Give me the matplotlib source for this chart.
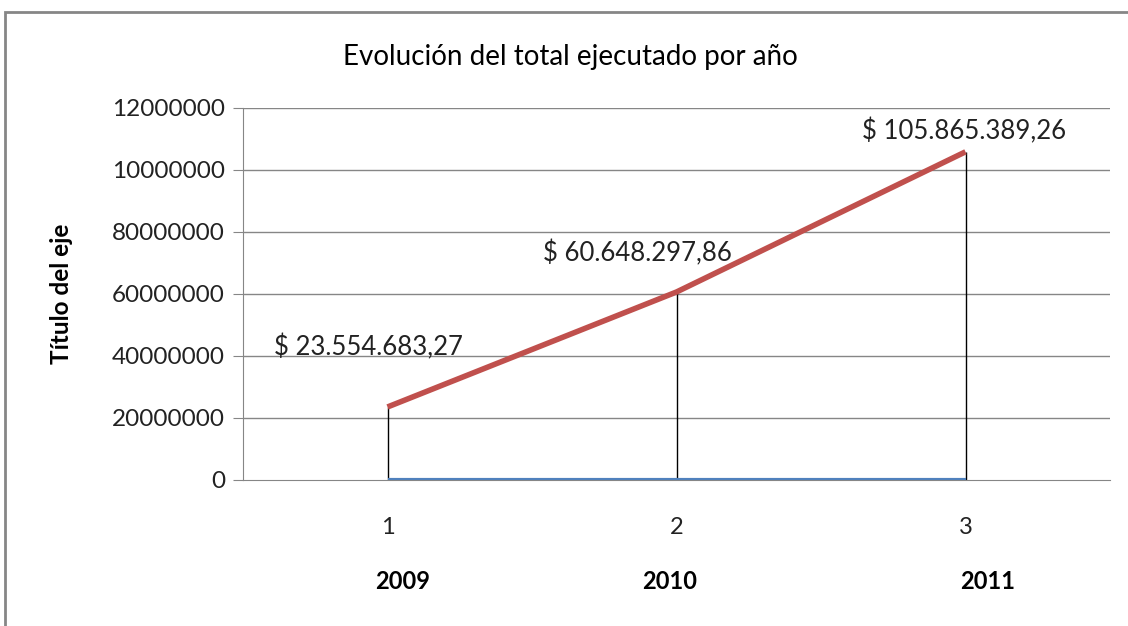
import numpy as np
import matplotlib.pyplot as plt
from matplotlib.patches import Rectangle

# data
positions = [1, 2, 3]
years = ["2009", "2010", "2011"]
totals = [23554683.27, 60648297.86, 105865389.26]
zeros = [0, 0, 0]
point_labels = ["$ 23.554.683,27", "$ 60.648.297,86", "$ 105.865.389,26"]
y_ticks = [0, 20000000, 40000000, 60000000, 80000000, 100000000, 120000000]
y_tick_labels = ["0", "20000000", "40000000", "60000000", "80000000", "10000000", "12000000"]

FONT = ["Lato", "DejaVu Sans"]
plt.rcParams['font.family'] = FONT

fig = plt.figure(figsize=(11.28, 6.26), dpi=100)
fig.patches.append(Rectangle((5 / 1128, -0.1), 1.2, 1 - 12 / 626 + 0.1,
                             transform=fig.transFigure, fill=False,
                             edgecolor="#868686", linewidth=2))

ax = fig.add_axes([243 / 1128, (626 - 480) / 626, 867 / 1128, 372 / 626])
ax.set_xlim(0.5, 3.5)
ax.set_ylim(0, 120000000)

for y in y_ticks[1:]:
    ax.axhline(y, color="#868686", linewidth=1, zorder=1)

# drop lines
ax.vlines(positions, 0, totals, color="black", linewidth=1, zorder=2)
ax.plot(positions, zeros, color="#4F81BD", linewidth=3, solid_capstyle="butt", zorder=3)
ax.plot(positions, totals, color="#C0504D", linewidth=4, solid_capstyle="butt", zorder=4)

offsets = [(-14, 43), (-28, 28), (-1, 15)]
for x, y, txt, off in zip(positions, totals, point_labels, offsets):
    ax.annotate(txt, (x, y), xytext=off, textcoords="offset points",
                ha="center", va="center", fontsize=18.5, color="#222222")

for s in ["top", "right"]:
    ax.spines[s].set_visible(False)
ax.spines["left"].set_color("#868686")
ax.spines["bottom"].set_color("#868686")

ax.set_yticks(y_ticks)
ax.set_yticklabels(y_tick_labels, fontsize=17.5, color="#222222")
ax.tick_params(axis="y", length=7, color="#868686", pad=6)
ax.set_xticks(positions)
ax.set_xticklabels([str(p) for p in positions], fontsize=17, color="#222222")
ax.tick_params(axis="x", length=0, pad=26.5)

# second row of category labels (placed a little off-centre like the original)
year_x = [1.052, 1.976, 3.076]
for x, yr in zip(year_x, years):
    ax.text(x, -0.274, yr, transform=ax.get_xaxis_transform(), ha="center", va="center",
            fontsize=17, fontweight="bold", color="black")

ax.set_ylabel("Título del eje", fontsize=17.5, fontweight="bold")
ax.yaxis.set_label_coords(-0.196, 0.5)
fig.text(570 / 1128, 1 - 57 / 626, "Evolución del total ejecutado por año",
         ha="center", va="center", fontsize=20, color="black")

fig.savefig("out.png", dpi=100)
